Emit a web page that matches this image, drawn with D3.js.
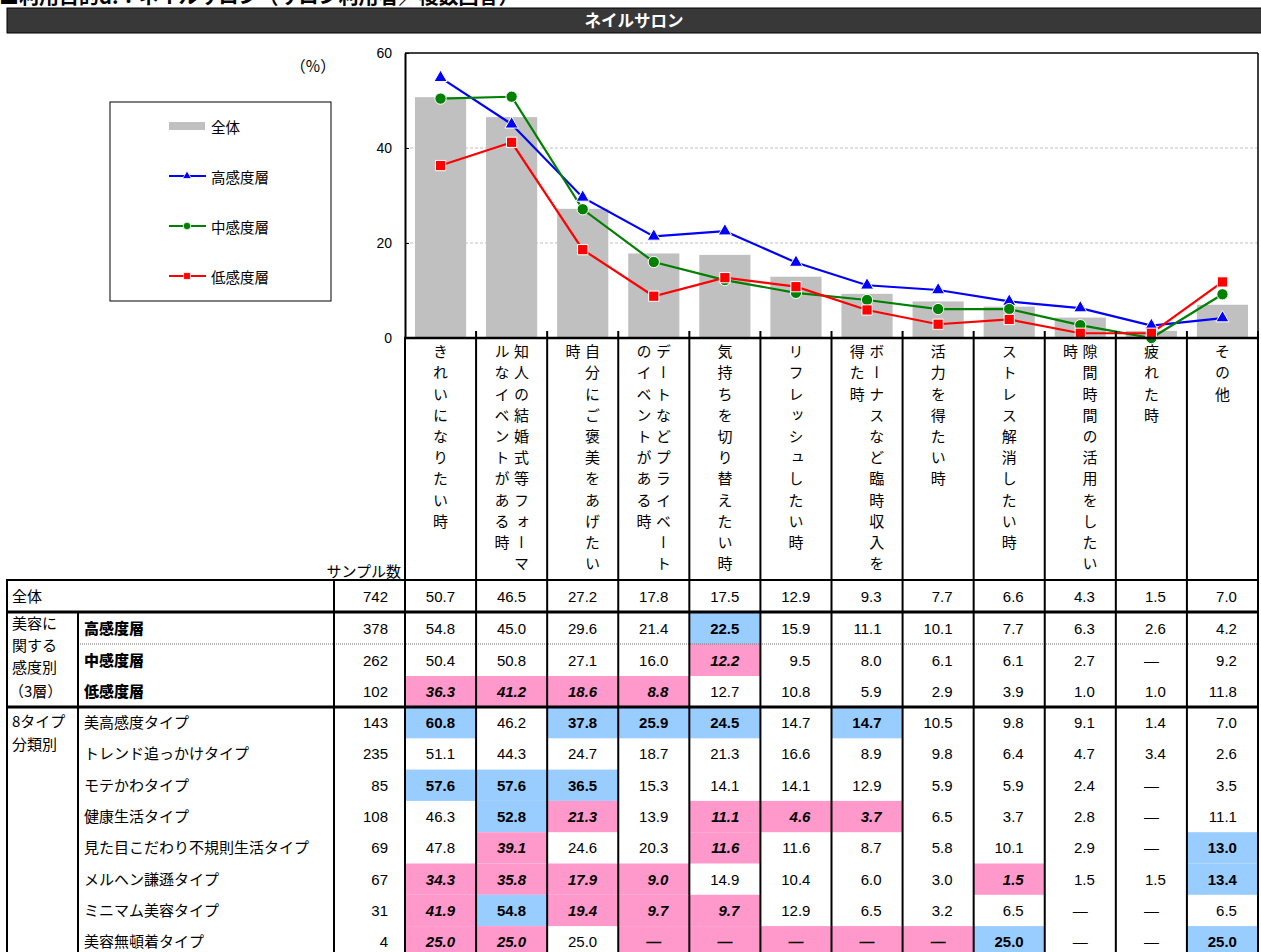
<!DOCTYPE html>
<html>
<head>
<meta charset="utf-8">
<script src="https://cdn.jsdelivr.net/npm/d3@7"></script>
<style>
  body { margin: 0; background: #fff; }
  svg { display: block; font-family: "Noto Sans CJK JP", sans-serif; }
  .num { font-family: "Liberation Sans Narrow", "Liberation Sans", sans-serif; }
</style>
</head>
<body>
<svg id="chart" width="1261" height="952"></svg>
<script>
// categories (x axis, vertical labels)
const categories = [
  "きれいになりたい時",
  "知人の結婚式等フォーマルなイベントがある時",
  "自分にご褒美をあげたい時",
  "デートなどプライベートのイベントがある時",
  "気持ちを切り替えたい時",
  "リフレッシュしたい時",
  "ボーナスなど臨時収入を得た時",
  "活力を得たい時",
  "ストレス解消したい時",
  "隙間時間の活用をしたい時",
  "疲れた時",
  "その他"
];

// chart series (null = "—")
const totalValues = [50.7, 46.5, 27.2, 17.8, 17.5, 12.9, 9.3, 7.7, 6.6, 4.3, 1.5, 7.0];
const highValues  = [54.8, 45.0, 29.6, 21.4, 22.5, 15.9, 11.1, 10.1, 7.7, 6.3, 2.6, 4.2];
const midValues   = [50.4, 50.8, 27.1, 16.0, 12.2, 9.5, 8.0, 6.1, 6.1, 2.7, null, 9.2];
const lowValues   = [36.3, 41.2, 18.6, 8.8, 12.7, 10.8, 5.9, 2.9, 3.9, 1.0, 1.0, 11.8];

// 8 type rows of the table
const typeLabels = ["美高感度タイプ", "トレンド追っかけタイプ", "モテかわタイプ", "健康生活タイプ",
  "見た目こだわり不規則生活タイプ", "メルヘン謙遜タイプ", "ミニマム美容タイプ", "美容無頓着タイプ"];
const typeValues = [
  [60.8, 46.2, 37.8, 25.9, 24.5, 14.7, 14.7, 10.5, 9.8, 9.1, 1.4, 7.0],
  [51.1, 44.3, 24.7, 18.7, 21.3, 16.6, 8.9, 9.8, 6.4, 4.7, 3.4, 2.6],
  [57.6, 57.6, 36.5, 15.3, 14.1, 14.1, 12.9, 5.9, 5.9, 2.4, null, 3.5],
  [46.3, 52.8, 21.3, 13.9, 11.1, 4.6, 3.7, 6.5, 3.7, 2.8, null, 11.1],
  [47.8, 39.1, 24.6, 20.3, 11.6, 11.6, 8.7, 5.8, 10.1, 2.9, null, 13.0],
  [34.3, 35.8, 17.9, 9.0, 14.9, 10.4, 6.0, 3.0, 1.5, 1.5, 1.5, 13.4],
  [41.9, 54.8, 19.4, 9.7, 9.7, 12.9, 6.5, 3.2, 6.5, null, null, 6.5],
  [25.0, 25.0, 25.0, null, null, null, null, null, 25.0, null, null, 25.0]
];
const sampleSizes = [742, 378, 262, 102, 143, 235, 85, 108, 69, 67, 31, 4];
// b = blue (high), p = pink (low), . = none ; one string per table row
const highlights = [
  "............",
  "....b.......",
  "....p.......",
  "pppp........",
  "b.bbb.b.....",
  "............",
  "bbb.........",
  ".bp.ppp.....",
  ".p..p......b",
  "pppp....p..b",
  "pbppp.......",
  "pp.pppppb..b"
];

const svg = d3.select("#chart");

const x = d3.scaleBand().domain(categories).range([405, 1258]).paddingInner(0.28).paddingOuter(0.14);
const y = d3.scaleLinear().domain([0, 60]).range([338, 53]);
const step = x.step();
const cx = d => x(d) + x.bandwidth() / 2;

// cut-off page title
svg.append("text")
  .attr("x", -1).attr("y", 4)
  .style("font-size", "20px").style("font-weight", "bold")
  .text("■利用目的d.：ネイルサロン（サロン利用者／複数回答）");

// header bar
svg.append("rect").attr("x", 7).attr("y", 8).attr("width", 1260).attr("height", 25)
  .attr("fill", "#383838").attr("stroke", "#000");
svg.append("text").attr("x", 634).attr("y", 26.5).attr("text-anchor", "middle")
  .attr("fill", "#fff").style("font-size", "16.5px").style("font-weight", "bold")
  .text("ネイルサロン");

// gridlines
svg.selectAll(".grid").data([20, 40]).join("line")
  .attr("x1", 405).attr("x2", 1258)
  .attr("y1", d => y(d)).attr("y2", d => y(d))
  .attr("stroke", "#c0c0c0").attr("stroke-dasharray", "3,2");

// bars (全体)
svg.selectAll(".bar").data(categories).join("rect")
  .attr("x", d => x(d)).attr("width", x.bandwidth())
  .attr("y", (d, i) => y(totalValues[i]))
  .attr("height", (d, i) => y(0) - y(totalValues[i]))
  .attr("fill", "#c0c0c0");

// plot frame
svg.append("line").attr("x1", 405).attr("x2", 1258).attr("y1", 53).attr("y2", 53).attr("stroke", "#000").attr("stroke-width", 1.5);
svg.append("line").attr("x1", 1258).attr("x2", 1258).attr("y1", 53).attr("y2", 338).attr("stroke", "#000").attr("stroke-width", 1.5);

const yAxis = svg.append("g").attr("transform", "translate(405,0)")
  .call(d3.axisLeft(y).tickValues([0, 20, 40, 60]).tickSizeInner(-4).tickSizeOuter(0).tickPadding(13));
yAxis.select(".domain").attr("stroke-width", 2);
yAxis.selectAll("text").attr("fill", "#000")
  .style("font-family", "'Liberation Sans', sans-serif").style("font-size", "14px");

svg.append("text").attr("x", 313).attr("y", 72).attr("text-anchor", "middle")
  .style("font-size", "15.5px").text("（%）");

// lines
const series = [
  { name: "高感度層", values: highValues, color: "#0000ff", shape: d3.symbolTriangle, size: 75 },
  { name: "中感度層", values: midValues, color: "#008000", shape: d3.symbolCircle, size: 100 },
  { name: "低感度層", values: lowValues, color: "#ff0000", shape: d3.symbolSquare, size: 105 }
];
const line = d3.line().x((d, i) => cx(categories[i])).y(d => y(d == null ? 0 : d));

series.forEach(s => {
  svg.append("path").datum(s.values).attr("d", line)
    .attr("fill", "none").attr("stroke", s.color).attr("stroke-width", 2.2);
});
series.forEach(s => {
  svg.selectAll(null).data(s.values).join("path")
    .attr("transform", (d, i) => `translate(${cx(categories[i])},${y(d == null ? 0 : d)})`)
    .attr("d", d3.symbol().type(s.shape).size(s.size))
    .attr("fill", s.color).attr("stroke", "#fff").attr("stroke-width", 1);
});

// legend
svg.append("rect").attr("x", 110).attr("y", 102).attr("width", 221).attr("height", 199)
  .attr("fill", "#fff").attr("stroke", "#000");
svg.append("rect").attr("x", 169).attr("y", 122).attr("width", 36).attr("height", 8).attr("fill", "#c0c0c0");
svg.append("text").attr("x", 211).attr("y", 126).attr("dominant-baseline", "central")
  .style("font-size", "14.5px").text("全体");
series.forEach((s, i) => {
  const ly = 176 + i * 50;
  svg.append("line").attr("x1", 169).attr("x2", 206).attr("y1", ly).attr("y2", ly)
    .attr("stroke", s.color).attr("stroke-width", 2.2);
  svg.append("path").attr("transform", `translate(187,${ly})`)
    .attr("d", d3.symbol().type(s.shape).size(s.size * 0.45)).attr("fill", s.color)
    .attr("stroke", "#fff").attr("stroke-width", 0.8);
  svg.append("text").attr("x", 211).attr("y", ly).attr("dominant-baseline", "central")
    .style("font-size", "14.5px").text(s.name);
});

// bottom axis line
svg.append("line").attr("x1", 404).attr("x2", 1259).attr("y1", 338).attr("y2", 338)
  .attr("stroke", "#000").attr("stroke-width", 2.5);

// vertical category labels (wrap every 11 chars, first column at right)
categories.forEach((c, i) => {
  const chunks = [];
  for (let k = 0; k < c.length; k += 11) chunks.push(c.slice(k, k + 11));
  chunks.forEach((t, j) => {
    svg.append("text")
      .attr("x", cx(c) + ((chunks.length - 1) / 2 - j) * 19.5)
      .attr("y", 344)
      .style("writing-mode", "vertical-rl")
      .style("font-size", "15px")
      .style("letter-spacing", "6.2px")
      .text(t);
  });
});

svg.append("text").attr("x", 401).attr("y", 577).attr("text-anchor", "end")
  .style("font-size", "15px").text("サンプル数");

// table
const rowLabels = ["全体", "高感度層", "中感度層", "低感度層"].concat(typeLabels);
const rowValues = [totalValues, highValues, midValues, lowValues].concat(typeValues);
const rowTops = [580, 612, 644, 676].concat(typeLabels.map((d, i) => 707 + i * 31.3));
const rowH = i => (i < 4 ? (i === 3 ? 31 : 32) : 31.3);

rowValues.forEach((vals, r) => {
  const top = rowTops[r], mid = top + rowH(r) / 2;
  vals.forEach((v, i) => {
    const h = highlights[r][i];
    const left = 405 + i * step;
    if (h !== ".") {
      svg.append("rect").attr("x", left).attr("y", top).attr("width", step).attr("height", rowH(r))
        .attr("fill", h === "b" ? "#99ccff" : "#ff99cc");
    }
    const t = svg.append("text").attr("class", "num")
      .attr("y", mid).attr("dominant-baseline", "central").style("font-size", "15px");
    if (v == null) {
      t.attr("x", left + step / 2).attr("text-anchor", "middle").text("—");
    } else {
      t.attr("x", left + 50).attr("text-anchor", "end").text(v.toFixed(1));
    }
    if (h === "b") t.style("font-weight", "bold");
    if (h === "p") t.style("font-weight", "bold").style("font-style", "italic");
  });
  svg.append("text").attr("class", "num").attr("x", 388).attr("y", mid)
    .attr("dominant-baseline", "central").attr("text-anchor", "end")
    .style("font-size", "15px").text(sampleSizes[r]);
  const lab = svg.append("text").attr("x", r === 0 ? 12 : 84).attr("y", mid - 1)
    .attr("dominant-baseline", "central").style("font-size", "15px").text(rowLabels[r]);
  if (r >= 1 && r <= 3) lab.style("font-weight", 900);
});

// group labels
[["美容に", 622], ["関する", 644], ["感度別", 666], ["（3層）", 690], ["8タイプ", 720], ["分類別", 743]]
  .forEach(([t, ly]) => {
    svg.append("text").attr("x", t.startsWith("（") ? 9 : 12).attr("y", ly)
      .attr("dominant-baseline", "central").style("font-size", "15px").text(t);
  });

// table rules
const hr = (y1, x1, w, opts = {}) => svg.append("line").attr("x1", x1).attr("x2", 1259)
  .attr("y1", y1).attr("y2", y1).attr("stroke", opts.color || "#000")
  .attr("stroke-width", w).attr("stroke-dasharray", opts.dash || null);
hr(580, 6, 2);
hr(612, 6, 3);
hr(644, 78, 1.2, { color: "#777", dash: "1,1" });
hr(707, 6, 3);

const vr = (x1, y1, y2) => svg.append("line").attr("x1", x1).attr("x2", x1)
  .attr("y1", y1).attr("y2", y2).attr("stroke", "#000").attr("stroke-width", 2);
vr(7, 579, 952);
vr(78, 612, 952);
vr(334, 579, 952);
d3.range(13).forEach(i => vr(405 + i * step, i === 0 ? 337 : 331, 952));
</script>
</body>
</html>
